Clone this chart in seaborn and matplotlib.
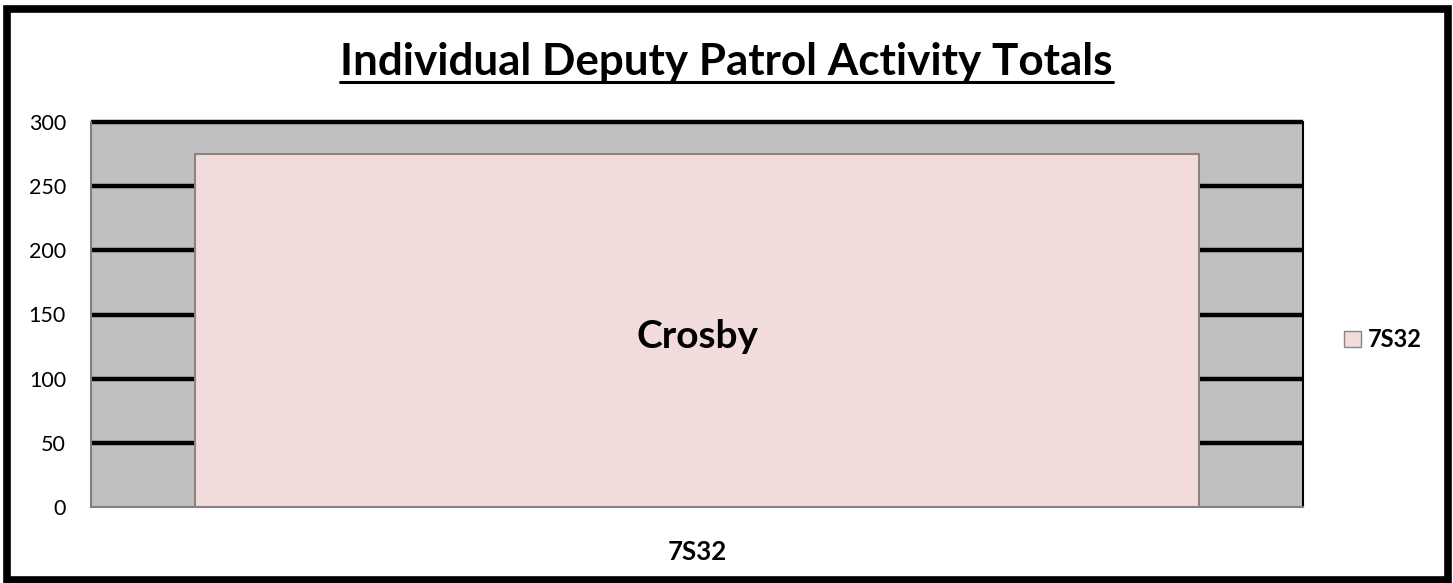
import matplotlib
matplotlib.use("Agg")
import matplotlib.pyplot as plt
import matplotlib.patches as mpatches
from matplotlib.lines import Line2D
import pandas as pd
import seaborn as sns

# chart data
units = ["7S32"]
totals = [275]
bar_labels = ["Crosby"]
y_ticks = [0, 50, 100, 150, 200, 250, 300]

df = pd.DataFrame({"unit": units, "total": totals})

sns.set_theme(style="white")
plt.rcParams["font.family"] = ["Lato", "DejaVu Sans"]
plt.rcParams["text.color"] = "black"
plt.rcParams["xtick.color"] = "black"
plt.rcParams["ytick.color"] = "black"

fig = plt.figure(figsize=(14.53, 5.83), dpi=100)
ax = fig.add_axes([91 / 1453, 1 - 507 / 583, 1212 / 1453, 385 / 583])
ax.set_facecolor("#c0c0c0")

sns.barplot(data=df, x="unit", y="total", color="#f2dcdb", width=0.828,
            edgecolor="#8c8484", linewidth=1.5, saturation=1, ax=ax, zorder=3)

# thick black gridlines behind the bar
ax.hlines(y_ticks[1:], -0.5, 0.5, colors="black", linewidth=3.2, zorder=1,
          clip_on=False)

ax.set_xlim(-0.5, 0.5)
ax.set_ylim(0, 300)
ax.set_yticks(y_ticks)
ax.set_xlabel("")
ax.set_ylabel("")
ax.tick_params(axis="y", length=0, labelsize=15.5, pad=18)
ax.tick_params(axis="x", length=0, labelsize=18.5, pad=24)
for t in ax.get_xticklabels():
    t.set_fontweight("bold")

for s in ["left", "bottom"]:
    ax.spines[s].set_color("#808080")
    ax.spines[s].set_linewidth(1.5)
ax.spines["top"].set_visible(False)
ax.spines["right"].set_color("black")
ax.spines["right"].set_linewidth(1.5)

# label inside the bar
for i, (lab, val) in enumerate(zip(bar_labels, totals)):
    ax.text(i, 133, lab, ha="center", va="center", fontsize=28,
            fontweight="bold", color="black", zorder=4)

# legend
handle = mpatches.Patch(facecolor="#f2dcdb", edgecolor="#8c8484", linewidth=1)
fig.legend([handle], units, loc="center left", bbox_to_anchor=(1323 / 1453, 1 - 340 / 583),
           frameon=False, prop={"weight": "bold", "size": 17},
           handlelength=0.7, handleheight=0.7, handletextpad=0.3)

# title with underline
title = fig.text(0.5, 1 - 62 / 583, "Individual Deputy Patrol Activity Totals",
                 ha="center", va="center", fontsize=31.7, fontweight="bold")
fig.canvas.draw()
bb = title.get_window_extent().transformed(fig.transFigure.inverted())
uy = 1 - 82 / 583
fig.add_artist(Line2D([bb.x0, bb.x1], [uy, uy], color="black", linewidth=2.2,
                      transform=fig.transFigure))

# outer chart border
fig.add_artist(mpatches.Rectangle((7 / 1453, 3 / 583), 1441 / 1453, 571 / 583,
                                  transform=fig.transFigure, fill=False,
                                  edgecolor="black", linewidth=5.5))

fig.savefig("out.png", dpi=100)
